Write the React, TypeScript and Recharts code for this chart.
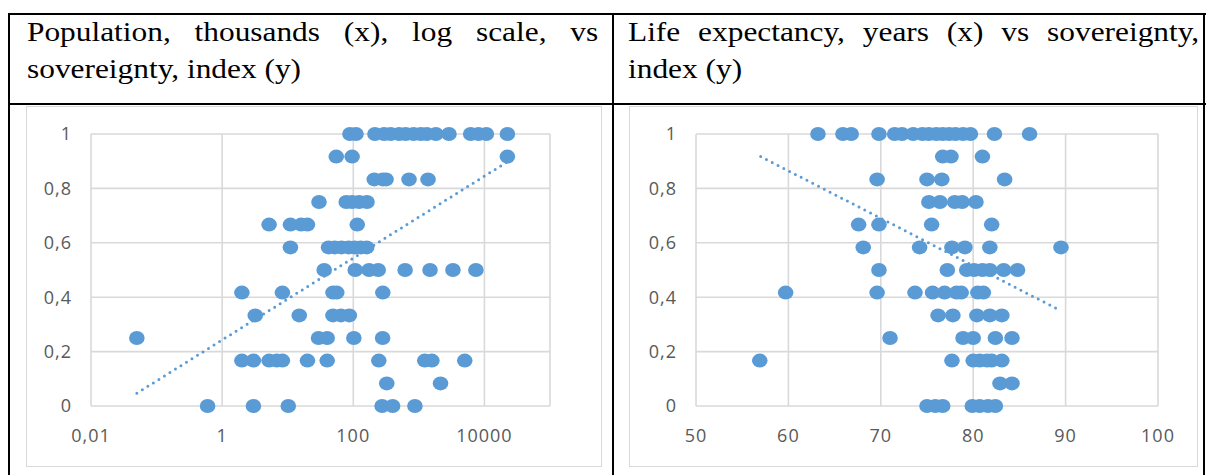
import React from 'react';
import { ScatterChart, Scatter, XAxis, YAxis, CartesianGrid } from 'recharts';

// sovereignty index levels, top row first
const sovLevels = [1, 0.917, 0.833, 0.75, 0.667, 0.583, 0.5, 0.417, 0.333, 0.25, 0.167, 0.083, 0];

// population, thousands, for each sovereignty level above
const popByLevel: number[][] = [
  [89, 110, 214, 295, 372, 500, 630, 830, 1070, 1320, 1820, 2880, 6170, 8130, 10700, 22400],
  [55, 96, 22400],
  [209, 282, 316, 708, 1380],
  [30, 78, 96, 123, 162],
  [5.2, 11, 16, 20, 115],
  [11, 42, 52, 66, 85, 105, 130, 160],
  [36, 107, 174, 240, 617, 1480, 3310, 7410],
  [2.0, 8.3, 49, 56, 282],
  [3.2, 15, 49, 65, 87],
  [0.05, 29.5, 40, 102, 280],
  [2.0, 3.0, 5.2, 6.8, 8.3, 20, 40, 245, 1230, 1580, 5010],
  [324, 2140],
  [0.6, 3.0, 10.2, 275, 398, 871],
];

// life expectancy, years, for each sovereignty level above
const lifeByLevel: number[][] = [
  [63.2, 65.9, 66.8, 69.8, 71.5, 72.3, 73.5, 74.5, 75.2, 76.0, 76.7, 77.4, 78.1, 78.9, 79.7, 82.3, 86.1],
  [76.7, 77.6, 81.0],
  [69.6, 75.0, 76.6, 83.4],
  [75.2, 76.4, 78.0, 78.8, 80.3],
  [67.6, 69.8, 75.5, 82.0],
  [68.1, 74.2, 77.7, 79.1, 81.8, 89.5],
  [69.8, 77.2, 79.3, 80.1, 81.0, 81.8, 83.3, 84.8],
  [59.7, 69.6, 73.7, 75.6, 76.9, 78.2, 78.7, 80.5, 81.1],
  [76.2, 77.8, 80.4, 81.8, 83.1],
  [71.0, 78.9, 80.0, 82.4, 84.2],
  [56.9, 77.7, 80.0, 80.7, 81.5, 82.0, 83.1],
  [82.9, 84.2],
  [75.0, 75.9, 76.7, 79.9, 80.7, 81.6, 82.4],
];

// trendline end points
const popTrendX = [0.05, 22400];
const popTrendY = [0.047, 0.898];
const lifeTrendX = [57, 89.5];
const lifeTrendY = [0.917, 0.35];

const popTicks = [0.01, 1, 100, 10000];
const lifeTicks = [50, 60, 70, 80, 90, 100];
const sovTicks = [0, 0.2, 0.4, 0.6, 0.8, 1];

const BLUE = '#5B9BD5';
const GRID = '#D9D9D9';

const toPoints = (rows: number[][]) =>
  rows.flatMap((xs, i) => xs.map((x) => ({ x, y: sovLevels[i] })));

const toLine = (xs: number[], ys: number[]) => xs.map((x, i) => ({ x, y: ys[i] }));

const comma = (v: number) => String(v).replace('.', ',');

// the source picture is a bit stretched sideways, so the markers are too
const Dot = (props: any) => <ellipse cx={props.cx} cy={props.cy} rx={7.8} ry={7} fill={BLUE} />;
const NoDot = () => <g />;

const tickStyle = { fill: '#595959', fontSize: 18, fontFamily: 'Open Sans', letterSpacing: 1 };

interface PanelProps {
  left: number;
  width: number;
  plotLeft: number;
  plotRight: number;
  points: { x: number; y: number }[];
  trend: { x: number; y: number }[];
  log?: boolean;
  domain: [number, number];
  ticks: number[];
}

const Panel: React.FC<PanelProps> = ({ left, width, plotLeft, plotRight, points, trend, log, domain, ticks }) => {
  const height = 361;
  return (
    <div
      style={{
        position: 'absolute',
        left,
        top: 106,
        width,
        height,
        boxSizing: 'border-box',
        border: `1px solid ${GRID}`,
        background: '#fff',
      }}
    >
      <div style={{ position: 'absolute', left: -1, top: -1 }}>
        <ScatterChart
          width={width}
          height={height}
          margin={{ top: 28, left: plotLeft - left - 45, right: left + width - plotRight, bottom: 31 }}
        >
          <CartesianGrid stroke={GRID} strokeWidth={1.6} />
          <XAxis
            type="number"
            dataKey="x"
            scale={log ? 'log' : 'linear'}
            domain={domain}
            ticks={ticks}
            allowDataOverflow
            tickFormatter={comma}
            axisLine={false}
            tickLine={false}
            tickSize={0}
            tickMargin={23}
            height={30}
            tick={tickStyle}
          />
          <YAxis
            type="number"
            dataKey="y"
            domain={[0, 1]}
            ticks={sovTicks}
            tickFormatter={comma}
            axisLine={false}
            tickLine={false}
            tickSize={0}
            tickMargin={19}
            width={45}
            tick={tickStyle}
          />
          <Scatter data={points} fill={BLUE} shape={Dot} isAnimationActive={false} />
          <Scatter
            data={trend}
            fill={BLUE}
            shape={NoDot}
            line={{ stroke: BLUE, strokeWidth: 3, strokeDasharray: '0 6.5', strokeLinecap: 'round' }}
            isAnimationActive={false}
          />
        </ScatterChart>
      </div>
    </div>
  );
};

const headerStyle: React.CSSProperties = {
  position: 'absolute',
  top: 13,
  width: 510,
  fontFamily: 'Liberation Serif',
  fontSize: 28,
  lineHeight: '37px',
  textAlign: 'justify',
  color: '#000',
  transform: 'scaleX(1.12)',
  transformOrigin: 'left top',
};

const line = (l: number, t: number, w: number, h: number) => (
  <div style={{ position: 'absolute', left: l, top: t, width: w, height: h, background: '#000' }} />
);

export default function App() {
  return (
    <div style={{ position: 'absolute', left: 0, top: 0, width: 1206, height: 475, background: '#fff', overflow: 'hidden' }}>
      <div style={{ ...headerStyle, left: 27 }}>Population, thousands (x), log scale, vs sovereignty, index (y)</div>
      <div style={{ ...headerStyle, left: 628 }}>Life expectancy, years (x) vs sovereignty, index (y)</div>
      <Panel
        left={26}
        width={576}
        plotLeft={91}
        plotRight={550}
        points={toPoints(popByLevel)}
        trend={toLine(popTrendX, popTrendY)}
        log
        domain={[0.01, 100000]}
        ticks={popTicks}
      />
      <Panel
        left={629}
        width={569}
        plotLeft={696}
        plotRight={1158}
        points={toPoints(lifeByLevel)}
        trend={toLine(lifeTrendX, lifeTrendY)}
        domain={[50, 100]}
        ticks={lifeTicks}
      />
      {line(8, 13, 1198, 2)}
      {line(8, 103, 1198, 2)}
      {line(8, 13, 2, 470)}
      {line(612, 13, 2, 470)}
      {line(1203, 13, 2, 470)}
    </div>
  );
}
